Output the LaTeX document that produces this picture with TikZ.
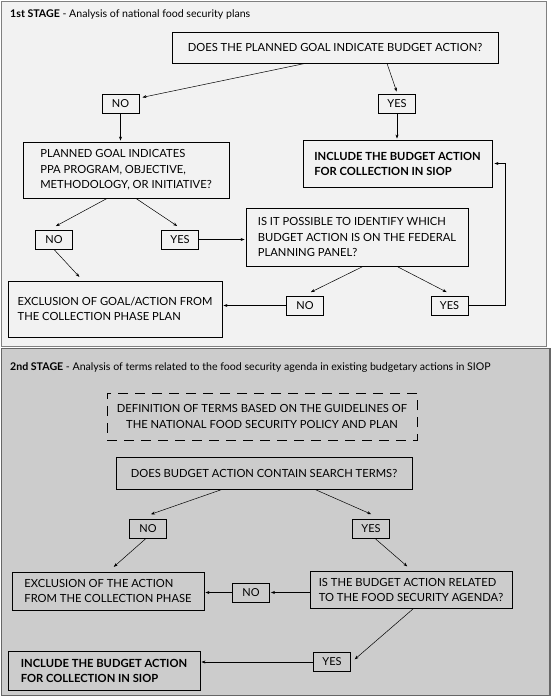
\documentclass[tikz,border=0pt]{standalone}
\usepackage{fontspec}
\setmainfont{Lato}
\usetikzlibrary{arrows.meta,calc}
\definecolor{pone}{HTML}{F2F2F2}
\definecolor{ptwo}{HTML}{CCCCCC}
\definecolor{bone}{HTML}{808080}
\definecolor{btwo}{HTML}{666666}
\tikzset{
  bx/.style={draw=black, line width=0.9pt, inner sep=0pt, align=left,
    font=\fontsize{11.2}{15.5}\selectfont},
  bxc/.style={bx, align=center},
  bxb/.style={bx, font=\fontsize{11.2}{15}\selectfont\bfseries},
  yn/.style={draw=black, line width=0.9pt, inner sep=0pt, minimum width=37, minimum height=19,
    font=\fontsize{11}{12}\selectfont},
  arr/.style={draw=black, line width=0.5pt, -{Stealth[length=4pt,width=3pt]}, shorten >=1pt},
  ln/.style={draw=black, line width=0.5pt},
  ttl/.style={anchor=west, inner sep=0pt, font=\fontsize{10.6}{12}\selectfont}
}
\begin{document}
\begin{tikzpicture}[x=1pt,y=-1pt]
\useasboundingbox (0,0) rectangle (552,698);
\fill[white] (0,0) rectangle (552,698);
% panels
\draw[fill=pone, draw=bone, line width=1pt] (1,1.5) rectangle (546,346.5);
\draw[fill=ptwo, draw=btwo, line width=1.5pt] (1.5,348.5) rectangle (550,695.5);

% ---------- stage 1 ----------
\node[ttl] (t1) at (10,15) {\textbf{1st STAGE} - Analysis of national food security plans};
\node[bxc, minimum width=326, minimum height=31] (q1) at (335,47.5) {DOES THE PLANNED GOAL INDICATE BUDGET ACTION?};
\node[yn] (no1) at (120.5,103.5) {NO};
\node[yn] (yes1) at (397,103.5) {YES};
\node[bx, minimum width=206, minimum height=56] (b2) at (126,170) {PLANNED GOAL INDICATES\\PPA PROGRAM, OBJECTIVE,\\METHODOLOGY, OR INITIATIVE?};
\node[bxb, minimum width=189, minimum height=47] (inc1) at (397.5,163.5) {INCLUDE THE BUDGET ACTION\\FOR COLLECTION IN SIOP};
\node[yn] (no2) at (54,239.5) {NO};
\node[yn] (yes2) at (180,239.5) {YES};
\node[bx, minimum width=222, minimum height=58] (q3) at (357,237) {IS IT POSSIBLE TO IDENTIFY WHICH\\BUDGET ACTION IS ON THE FEDERAL\\PLANNING PANEL?};
\node[yn] (no3) at (305,305.5) {NO};
\node[yn] (yes3) at (449.5,305.5) {YES};
\node[bx, minimum width=214, minimum height=56] (exc1) at (115,309) {EXCLUSION OF GOAL/ACTION FROM\\THE COLLECTION PHASE PLAN};

\draw[arr] ($(q1.south)+(-30,0)$) -- ($(no1.north east)+(2,4)$);
\draw[arr] ($(q1.south)+(52,0)$) -- ($(yes1.north)+(0,-1)$);
\draw[arr] (no1.south) -- (no1.south |- b2.north);
\draw[arr] (yes1.south) -- (yes1.south |- inc1.north);
\draw[arr] ($(b2.south)+(-19,0)$) -- ($(no2.north)+(1,-3)$);
\draw[arr] ($(b2.south)+(10,0)$) -- ($(yes2.north)+(-2,-3)$);
\draw[arr] (yes2.east) -- (yes2.east -| q3.west);
\draw[arr] ($(q3.south)+(6,0)$) -- ($(no3.north)+(5,-3)$);
\draw[arr] ($(q3.south)+(40,0)$) -- ($(yes3.north)+(-2,-3)$);
\draw[arr] (no3.west) -- (no3.west -| exc1.east);
\draw[arr] (no2.south) -- ($(exc1.north)+(-35,-3)$);
\draw[arr, shorten >=2pt] (yes3.east) -- ++(37,0) |- (inc1.east);

% ---------- stage 2 ----------
\node[ttl] (t2) at (10,368) {\textbf{2nd STAGE} - Analysis of terms related to the food security agenda in existing budgetary actions in SIOP};
\node[bxc, dash pattern=on 10pt off 7pt, minimum width=310, minimum height=47] (def) at (262,416.5) {DEFINITION OF TERMS BASED ON THE GUIDELINES OF\\THE NATIONAL FOOD SECURITY POLICY AND PLAN};
\node[bxc, minimum width=296, minimum height=32] (q4) at (264,473) {DOES BUDGET ACTION CONTAIN SEARCH TERMS?};
\node[yn] (no4) at (148,528.5) {NO};
\node[yn] (yes4) at (371,528.5) {YES};
\node[bx, minimum width=192, minimum height=38] (exc2) at (108,591) {EXCLUSION OF THE ACTION\\FROM THE COLLECTION PHASE};
\node[bx, minimum width=202, minimum height=37] (q5) at (411,590) {IS THE BUDGET ACTION RELATED\\TO THE FOOD SECURITY AGENDA?};
\node[yn] (no5) at (251,592.5) {NO};
\node[yn] (yes5) at (332,662) {YES};
\node[bxb, minimum width=192, minimum height=39] (inc2) at (104,670.5) {INCLUDE THE BUDGET ACTION\\FOR COLLECTION IN SIOP};

\draw[arr] ($(q4.south)+(-42,0)$) -- ($(no4.north)+(2,-4)$);
\draw[arr] ($(q4.south)+(51,0)$) -- ($(yes4.north)+(1,-4)$);
\draw[arr] ($(no4.south)+(-2,0)$) -- ($(exc2.north)+(5,-4)$);
\draw[arr] ($(yes4.south)+(4,0)$) -- ($(q5.north)+(-3,-4)$);
\draw[arr] (no5.east -| q5.west) -- (no5.east);
\draw[arr] (no5.west) -- (no5.west -| exc2.east);
\draw[arr] ($(q5.south)+(2,0)$) -- ($(yes5.east)+(3,-2)$);
\draw[arr] (yes5.west) -- (yes5.west -| inc2.east);
\end{tikzpicture}
\end{document}
